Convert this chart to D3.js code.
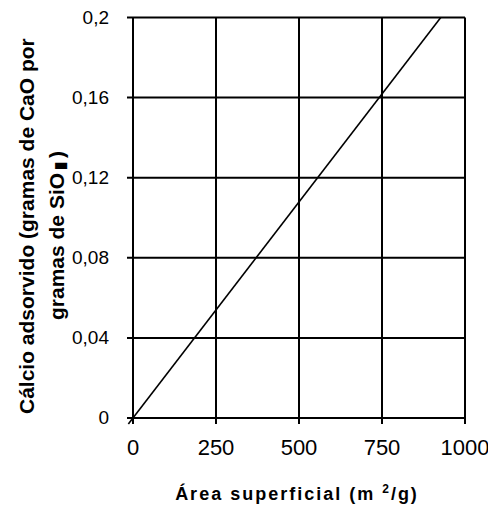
<!DOCTYPE html>
<html><head><meta charset="utf-8">
<script src="https://cdn.jsdelivr.net/npm/d3@7"></script>
<style>body{margin:0;background:#fff}svg{display:block}text{font-family:"Liberation Sans",Arial,sans-serif;fill:#000}</style>
</head><body>
<svg id="c" width="488" height="509"></svg>
<script>
const xTicks = [0, 250, 500, 750, 1000];
const yTicks = [0, 0.04, 0.08, 0.12, 0.16, 0.2];
const yTickLabels = ["0", "0,04", "0,08", "0,12", "0,16", "0,2"];
const lineX = [-14, 927];
const lineY = [-0.003, 0.2];

const svg = d3.select("#c");
const x = d3.scaleLinear().domain([0, 1000]).range([133, 465]);
const y = d3.scaleLinear().domain([0, 0.2]).range([418, 17.5]);

const g = svg.append("g");
// grid
g.selectAll(".vg").data(xTicks).join("line")
  .attr("x1", d => x(d)).attr("x2", d => x(d))
  .attr("y1", y(0.2)).attr("y2", y(0) + 6)
  .attr("stroke", "#000").attr("stroke-width", 2);
g.selectAll(".hg").data(yTicks).join("line")
  .attr("y1", d => y(d)).attr("y2", d => y(d))
  .attr("x1", x(0) - 6).attr("x2", x(1000))
  .attr("stroke", "#000").attr("stroke-width", 2);

// tick labels
g.selectAll(".xl").data(xTicks).join("text")
  .attr("x", d => x(d)).attr("y", 455)
  .attr("text-anchor", "middle").attr("font-size", 22)
  .text(d => d);
g.selectAll(".yl").data(yTicks).join("text")
  .attr("x", 109).attr("y", d => y(d) + 6)
  .attr("text-anchor", "end").attr("font-size", 19)
  .text((d, i) => yTickLabels[i]);

// data line
const pts = lineX.map((v, i) => [v, lineY[i]]);
g.append("path").datum(pts)
  .attr("d", d3.line().x(d => x(d[0])).y(d => y(d[1])))
  .attr("stroke", "#000").attr("stroke-width", 1.6).attr("fill", "none");

// x title
const xt = svg.append("text").attr("x", 297).attr("y", 500)
  .attr("text-anchor", "middle").attr("font-size", 18).attr("font-weight", "bold")
  .attr("letter-spacing", 2);
xt.append("tspan").text("Área superficial (m ");
xt.append("tspan").attr("dy", -7).attr("font-size", 12).text("2");
xt.append("tspan").attr("dy", 7).text("/g)");

// y title
const yt = svg.append("g").attr("transform", "rotate(-90)");
yt.append("text").attr("x", -414).attr("y", 34)
  .attr("text-anchor", "start").attr("font-size", 21).attr("font-weight", "bold")
  .text("Cálcio adsorvido (gramas de CaO por");
const yt2 = yt.append("text").attr("x", -320).attr("y", 64)
  .attr("text-anchor", "start").attr("font-size", 21).attr("font-weight", "bold");
yt2.append("tspan").text("gramas de SiO");
yt2.append("tspan").attr("dx", 3).attr("dy", 1).attr("font-size", 15).text("▮");
yt2.append("tspan").attr("dx", 4).attr("dy", -1).text(")");
</script>
</body></html>
